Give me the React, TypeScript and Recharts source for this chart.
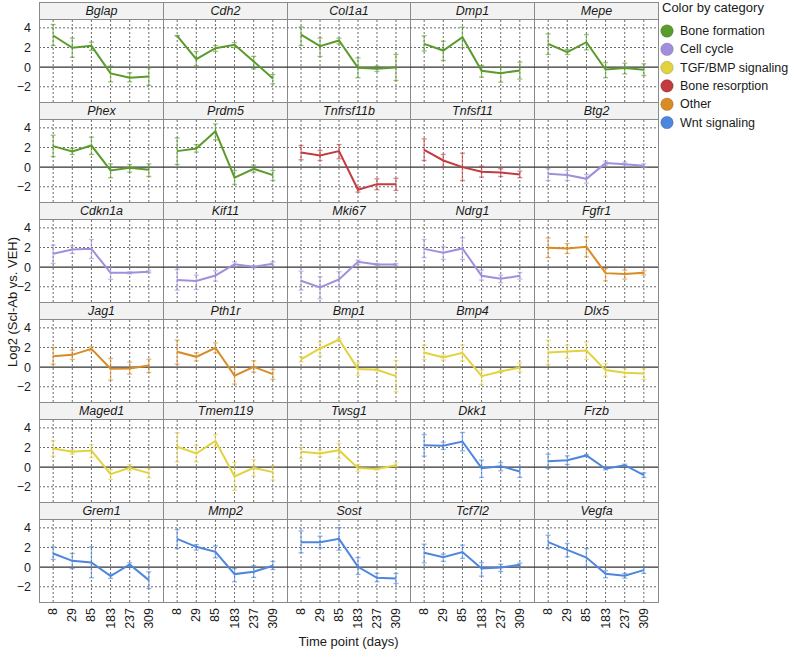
import React from "react";
import {
  LineChart,
  Line,
  XAxis,
  YAxis,
  CartesianGrid,
  ReferenceLine,
  ErrorBar,
} from "recharts";

const days = ["8", "29", "85", "183", "237", "309"];

const categories = [
  "Bone formation",
  "Cell cycle",
  "TGF/BMP signaling",
  "Bone resorption",
  "Other",
  "Wnt signaling",
];
const categoryColors = ["#5b9b2b", "#a28fdb", "#e3d23f", "#c23b3e", "#d98b24", "#4d86de"];

const genes = [
  "Bglap", "Cdh2", "Col1a1", "Dmp1", "Mepe",
  "Phex", "Prdm5", "Tnfrsf11b", "Tnfsf11", "Btg2",
  "Cdkn1a", "Kif11", "Mki67", "Ndrg1", "Fgfr1",
  "Jag1", "Pth1r", "Bmp1", "Bmp4", "Dlx5",
  "Maged1", "Tmem119", "Twsg1", "Dkk1", "Frzb",
  "Grem1", "Mmp2", "Sost", "Tcf7l2", "Vegfa",
];

// index into categories
const geneCategory = [
  0, 0, 0, 0, 0,
  0, 0, 3, 3, 1,
  1, 1, 1, 1, 4,
  4, 4, 2, 2, 2,
  2, 2, 2, 5, 5,
  5, 5, 5, 5, 5,
];

const means = [
  [3.22, 1.97, 2.17, -0.64, -1.08, -0.95],
  [3.19, 0.81, 1.93, 2.27, 0.58, -1.15],
  [3.32, 2.14, 2.71, -0.07, -0.17, -0.03],
  [2.37, 1.69, 3.05, -0.37, -0.61, -0.34],
  [2.37, 1.53, 2.54, -0.24, -0.1, -0.27],
  [2.14, 1.59, 2.2, -0.34, -0.07, -0.27],
  [1.63, 1.9, 3.66, -1.08, -0.17, -0.81],
  [1.49, 1.19, 1.63, -2.3, -1.73, -1.73],
  [1.76, 0.68, 0, -0.47, -0.54, -0.75],
  [-0.68, -0.81, -1.19, 0.41, 0.3, 0.14],
  [1.36, 1.8, 1.86, -0.58, -0.58, -0.47],
  [-1.32, -1.42, -0.85, 0.3, 0.03, 0.34],
  [-1.39, -2.07, -1.25, 0.54, 0.27, 0.27],
  [1.86, 1.46, 1.9, -0.88, -1.19, -0.88],
  [1.97, 1.9, 2.07, -0.61, -0.71, -0.58],
  [1.12, 1.25, 1.86, -0.17, -0.14, 0.17],
  [1.56, 1.05, 1.97, -0.88, 0.03, -0.71],
  [0.78, 1.9, 2.81, -0.2, -0.27, -0.92],
  [1.49, 0.98, 1.46, -0.92, -0.44, -0.03],
  [1.49, 1.59, 1.69, -0.3, -0.58, -0.64],
  [1.9, 1.56, 1.69, -0.71, -0.07, -0.61],
  [2.07, 1.39, 2.68, -0.95, -0.07, -0.51],
  [1.56, 1.39, 1.73, -0.1, -0.2, 0.2],
  [2.24, 2.17, 2.61, -0.1, 0.1, -0.44],
  [0.61, 0.71, 1.19, -0.17, 0.2, -0.81],
  [1.39, 0.64, 0.47, -0.92, 0.27, -1.32],
  [2.88, 2.07, 1.56, -0.71, -0.47, 0.14],
  [2.54, 2.54, 2.88, 0.03, -1.08, -1.15],
  [1.46, 1.02, 1.53, -0.14, -0.03, 0.24],
  [2.54, 1.76, 0.98, -0.68, -0.88, -0.3],
];

const lower = [
  [2.2, 1.0, 1.7, -1.5, -1.5, -1.86],
  [3.15, 0.14, 1.6, 2.0, -0.17, -1.7],
  [2.2, 1.08, 2.37, -1.08, -0.44, -1.36],
  [1.63, 0.68, 1.97, -1.02, -1.53, -1.22],
  [1.29, 1.29, 1.76, -1.08, -0.68, -0.85],
  [1.08, 1.29, 1.29, -1.08, -0.51, -0.95],
  [0.27, 1.53, 2.78, -1.76, -0.51, -1.36],
  [0.75, 0.68, 0.85, -2.54, -2.3, -2.37],
  [0.68, 0, -1.36, -1.02, -0.95, -1.08],
  [-1.36, -1.36, -1.63, 0.2, 0.1, -0.03],
  [0.37, 1.39, 0.88, -1.25, -0.68, -0.57],
  [-2.34, -2.27, -1.42, 0.03, -0.07, 0.1],
  [-2.34, -3.22, -2.0, 0.3, 0.17, 0.17],
  [0.98, 0.78, 0.78, -1.32, -1.59, -1.22],
  [0.98, 1.39, 1.05, -1.39, -1.22, -0.81],
  [0.3, 0.78, 1.66, -1.32, -0.71, -0.54],
  [0.3, 0.64, 1.46, -1.73, -0.51, -1.25],
  [0.54, 1.12, 2.71, -0.81, -0.37, -2.51],
  [0.78, 0.71, 0.61, -1.76, -0.54, -0.47],
  [0.27, 0.88, 0.78, -0.92, -0.98, -1.25],
  [1.12, 1.32, 0.98, -1.25, -0.37, -1.08],
  [0.51, 0.54, 2.07, -2.37, -0.92, -1.32],
  [0.88, 1.05, 0.88, -0.41, -0.3, 0.03],
  [1.12, 1.8, 1.66, -1.05, -0.37, -1.05],
  [-0.14, 0.27, 1.09, -0.27, 0.1, -1.05],
  [0.78, -0.14, -1.08, -1.15, 0.03, -2.17],
  [1.9, 1.73, 0.95, -1.49, -1.05, -0.24],
  [1.46, 1.97, 1.73, -0.75, -1.49, -1.66],
  [0.44, 0.58, 0.88, -0.92, -0.44, 0.03],
  [1.9, 1.05, 0.03, -1.08, -1.12, -0.64],
];

const upper = [
  [4.34, 2.95, 2.54, 0.1, -0.58, -0.07],
  [3.23, 1.6, 2.2, 2.5, 1.1, -0.75],
  [4.1, 2.98, 2.95, 0.95, 0.1, 1.29],
  [3.19, 2.64, 4.07, 0.17, 0, 0.51],
  [3.39, 1.8, 3.32, 0.47, 0.41, 0.34],
  [3.25, 1.93, 3.05, 0.34, 0.27, 0.34],
  [2.98, 2.3, 4.4, -0.34, 0.2, -0.34],
  [2.2, 1.69, 2.3, -2.03, -1.19, -1.15],
  [2.88, 1.29, 1.42, 0.1, -0.17, -0.41],
  [-0.17, -0.34, -0.75, 0.61, 0.51, 0.34],
  [2.24, 2.17, 2.81, 0.03, -0.48, -0.37],
  [-0.24, -0.81, -0.37, 0.54, 0.13, 0.54],
  [-0.41, -0.98, -0.47, 0.71, 0.37, 0.37],
  [2.81, 2.07, 3.0, -0.3, -0.81, -0.54],
  [2.98, 2.4, 3.08, -0.14, -0.3, -0.37],
  [2.0, 1.73, 2.07, 0.88, 0.51, 0.81],
  [2.75, 1.46, 2.47, 0.03, 0.64, -0.24],
  [1.05, 2.54, 2.91, 0.44, -0.17, 0.68],
  [2.24, 1.22, 2.24, -0.3, -0.34, 0.44],
  [2.75, 2.24, 2.58, 0.37, -0.14, -0.14],
  [2.68, 1.73, 2.3, -0.24, 0.27, -0.14],
  [3.49, 2.24, 3.32, 0.47, 0.75, 0.14],
  [2.0, 1.73, 2.41, 0.27, -0.1, 0.44],
  [3.32, 2.54, 3.53, 0.71, 0.47, 0.03],
  [1.32, 1.15, 1.29, -0.07, 0.3, -0.58],
  [2.07, 1.39, 2.07, -0.71, 0.44, -0.47],
  [3.83, 2.3, 2.17, -0.14, 0.14, 0.58],
  [3.69, 3.15, 4.03, 0.98, -0.64, -0.64],
  [2.34, 1.32, 2.24, 0.47, 0.3, 0.41],
  [3.25, 2.41, 1.9, -0.37, -0.64, 0.03],
];

const yTicks = [-2, 0, 2, 4];
const xIdx = [0, 1, 2, 3, 4, 5];

// layout
const PX = 39;
const PW = 123.8;
const PY = 2;
const RH = 100;
const STRIP = 18;
const PLOT_H = RH - STRIP;
const YAXIS_W = 39;
const XAXIS_H = 45;
const FONT = "'Liberation Sans', Arial, Helvetica, sans-serif";
const TICK_FS = 12.5;

const fmtY = (v: number) => (v < 0 ? "\u2212" + Math.abs(v) : String(v));

function XTick(props: any) {
  const { x, y, payload } = props;
  return (
    <text
      x={x}
      y={y}
      transform={`rotate(-90 ${x} ${y})`}
      textAnchor="end"
      dominantBaseline="central"
      fontSize={TICK_FS}
      fontFamily={FONT}
      fill="#1a1a1a"
    >
      {days[payload.value]}
    </text>
  );
}

function Panel({ gi }: { gi: number }) {
  const r = Math.floor(gi / 5);
  const c = gi % 5;
  const left = Math.round(PX + c * PW);
  const w = Math.round(PX + (c + 1) * PW) - left;
  const top = PY + r * RH;
  const color = categoryColors[geneCategory[gi]];
  const showY = c === 0;
  const showX = r === 5;

  const data = xIdx.map((i) => ({
    i,
    v: means[gi][i],
    e: [means[gi][i] - lower[gi][i], upper[gi][i] - means[gi][i]],
  }));

  return (
    <>
      <div
        style={{
          position: "absolute",
          left,
          top,
          width: w + 1,
          height: RH + 1,
          boxSizing: "border-box",
          border: "1px solid #8a8a8a",
          background: "#fff",
        }}
      >
        <div
          style={{
            height: STRIP - 1,
            boxSizing: "border-box",
            background: "#f2f2f2",
            borderBottom: "1px solid #8a8a8a",
            textAlign: "center",
            fontStyle: "italic",
            fontSize: 12.5,
            lineHeight: `${STRIP - 2}px`,
            color: "#1a1a1a",
          }}
        >
          {genes[gi]}
        </div>
      </div>
      <div
        style={{
          position: "absolute",
          left: showY ? left - YAXIS_W : left,
          top: top + STRIP,
        }}
      >
        <LineChart
          width={w + (showY ? YAXIS_W : 0)}
          height={PLOT_H + (showX ? XAXIS_H : 0)}
          data={data}
          margin={{ top: 0, right: 0, bottom: 0, left: 0 }}
        >
          <CartesianGrid
            stroke="#6a6a6a"
            strokeDasharray="2 2"
            horizontalValues={[4, 2, -2]}
            verticalValues={xIdx}
          />
          <XAxis
            dataKey="i"
            type="number"
            domain={[-0.74, 5.74]}
            ticks={xIdx}
            allowDataOverflow
            hide={!showX}
            height={XAXIS_H}
            axisLine={false}
            tickLine={false}
            tickSize={4}
            tickMargin={2}
            tick={<XTick />}
            interval={0}
          />
          <YAxis
            type="number"
            domain={[-3.55, 4.8]}
            ticks={yTicks}
            allowDataOverflow
            hide={!showY}
            width={YAXIS_W}
            axisLine={false}
            tickLine={false}
            interval={0}
            tickFormatter={fmtY}
            tick={{ fontSize: TICK_FS, fill: "#1a1a1a", fontFamily: FONT }}
          />
          <ReferenceLine y={0} stroke="#333" strokeWidth={1.2} />
          <Line
            dataKey="v"
            stroke={color}
            strokeWidth={2}
            dot={false}
            isAnimationActive={false}
          >
            <ErrorBar
              dataKey="e"
              direction="y"
              width={2.5}
              stroke={color}
              strokeOpacity={0.6}
              strokeWidth={1.3}
              isAnimationActive={false}
            />
          </Line>
        </LineChart>
      </div>
    </>
  );
}

export default function App() {
  return (
    <div
      style={{
        position: "relative",
        width: 790,
        height: 652,
        background: "#fff",
        fontFamily: FONT,
        overflow: "hidden",
      }}
    >
      <style>{"body{margin:0}"}</style>
      {genes.map((g, gi) => (
        <Panel key={g} gi={gi} />
      ))}
      <div
        style={{
          position: "absolute",
          left: PX,
          top: PY,
          width: Math.round(5 * PW) + 1,
          height: 6 * RH + 1,
          boxSizing: "border-box",
          border: "1.5px solid #8a8a8a",
          pointerEvents: "none",
        }}
      />
      <svg
        width={790}
        height={652}
        style={{ position: "absolute", left: 0, top: 0, pointerEvents: "none" }}
      >
        <text
          x={12}
          y={PY + 3 * RH}
          transform={`rotate(-90 12 ${PY + 3 * RH})`}
          textAnchor="middle"
          dominantBaseline="central"
          fontSize={13}
          fontFamily={FONT}
          fill="#1a1a1a"
        >
          Log2 (Scl-Ab vs. VEH)
        </text>
        <text
          x={PX + (5 * PW) / 2}
          y={646}
          textAnchor="middle"
          fontSize={13}
          fontFamily={FONT}
          fill="#1a1a1a"
        >
          Time point (days)
        </text>
        <text x={662} y={12} fontSize={13} fontFamily={FONT} fill="#1a1a1a">
          Color by category
        </text>
        {categories.map((cat, k) => (
          <g key={cat}>
            <circle
              cx={667}
              cy={31 + k * 18.3}
              r={6.3}
              fill={categoryColors[k]}
              stroke="rgba(0,0,0,0.2)"
              strokeWidth={0.8}
            />
            <text
              x={680}
              y={31 + k * 18.3}
              dominantBaseline="central"
              fontSize={12.5}
              fontFamily={FONT}
              fill="#1a1a1a"
            >
              {cat}
            </text>
          </g>
        ))}
      </svg>
    </div>
  );
}
